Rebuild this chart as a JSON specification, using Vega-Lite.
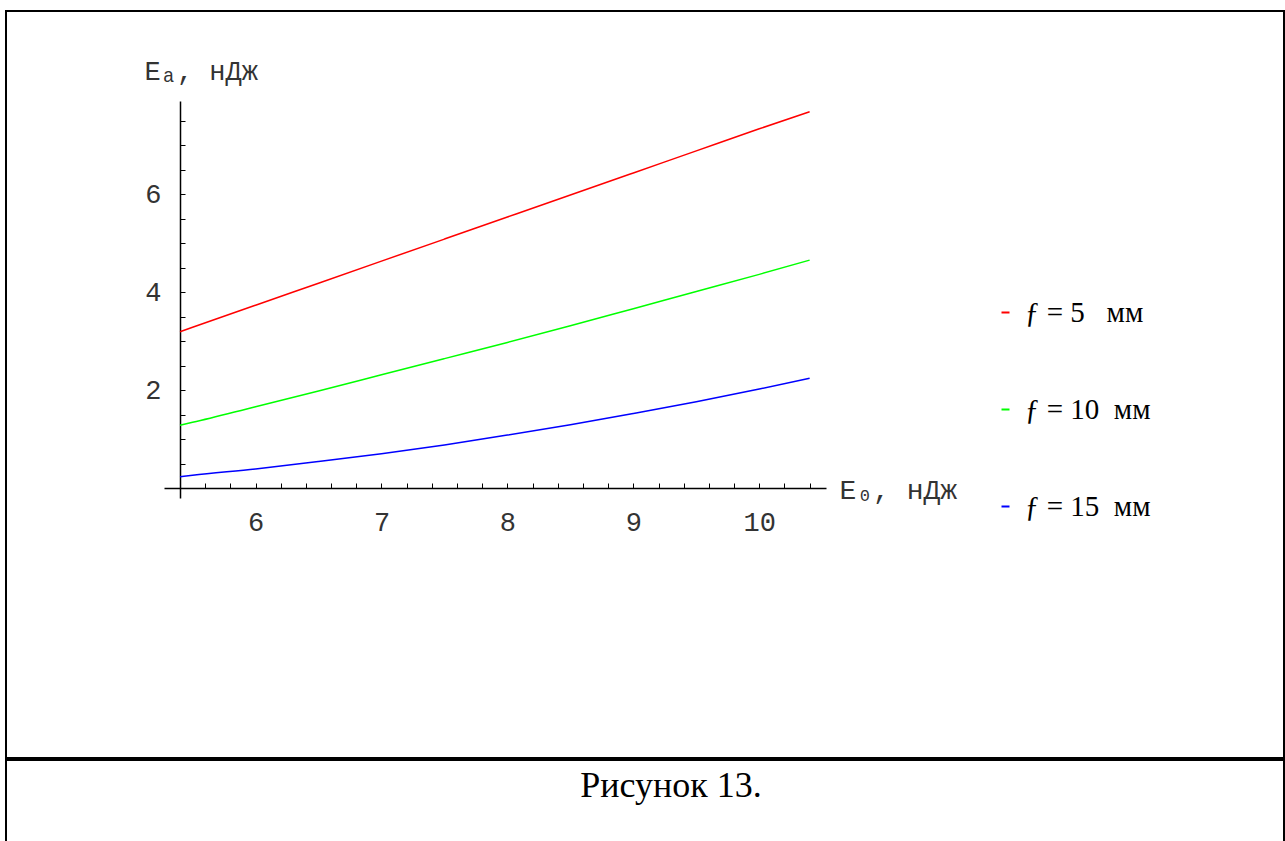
{
  "$schema": "https://vega.github.io/schema/vega-lite/v6.json",
  "padding": {"left": 5, "top": 10, "right": 0, "bottom": 0},
  "background": "white",
  "spacing": 0,
  "config": {"view": {"stroke": "black", "strokeWidth": 2}, "concat": {"spacing": 0}},
  "vconcat": [
    {
      "width": 1278,
      "height": 747,
      "data": {"values": [
        {"E0": 5.4, "Ea": 3.19, "f": 5}, {"E0": 5.5, "Ea": 3.28, "f": 5}, {"E0": 6.0, "Ea": 3.73, "f": 5}, {"E0": 6.5, "Ea": 4.18, "f": 5}, {"E0": 7.0, "Ea": 4.63, "f": 5}, {"E0": 7.5, "Ea": 5.08, "f": 5}, {"E0": 8.0, "Ea": 5.53, "f": 5}, {"E0": 8.5, "Ea": 5.98, "f": 5}, {"E0": 9.0, "Ea": 6.43, "f": 5}, {"E0": 9.5, "Ea": 6.88, "f": 5}, {"E0": 10.0, "Ea": 7.33, "f": 5}, {"E0": 10.4, "Ea": 7.68, "f": 5},
        {"E0": 5.4, "Ea": 1.28, "f": 10}, {"E0": 5.5, "Ea": 1.34, "f": 10}, {"E0": 6.0, "Ea": 1.66, "f": 10}, {"E0": 6.5, "Ea": 1.98, "f": 10}, {"E0": 7.0, "Ea": 2.31, "f": 10}, {"E0": 7.5, "Ea": 2.64, "f": 10}, {"E0": 8.0, "Ea": 2.97, "f": 10}, {"E0": 8.5, "Ea": 3.31, "f": 10}, {"E0": 9.0, "Ea": 3.66, "f": 10}, {"E0": 9.5, "Ea": 4.01, "f": 10}, {"E0": 10.0, "Ea": 4.36, "f": 10}, {"E0": 10.4, "Ea": 4.65, "f": 10},
        {"E0": 5.4, "Ea": 0.23, "f": 15}, {"E0": 5.5, "Ea": 0.26, "f": 15}, {"E0": 6.0, "Ea": 0.39, "f": 15}, {"E0": 6.5, "Ea": 0.54, "f": 15}, {"E0": 7.0, "Ea": 0.70, "f": 15}, {"E0": 7.5, "Ea": 0.88, "f": 15}, {"E0": 8.0, "Ea": 1.08, "f": 15}, {"E0": 8.5, "Ea": 1.29, "f": 15}, {"E0": 9.0, "Ea": 1.52, "f": 15}, {"E0": 9.5, "Ea": 1.76, "f": 15}, {"E0": 10.0, "Ea": 2.02, "f": 15}, {"E0": 10.4, "Ea": 2.24, "f": 15}
      ]},
      "mark": {"type": "line", "strokeWidth": 1.5, "interpolate": "monotone"},
      "encoding": {
        "x": {
          "field": "E0", "type": "quantitative",
          "scale": {"domain": [5.273, 10.53], "range": [158, 820], "zero": false, "nice": false},
          "axis": {
            "orient": "bottom", "offset": -270,
            "values": [5.6, 5.8, 6, 6.2, 6.4, 6.6, 6.8, 7, 7.2, 7.4, 7.6, 7.8, 8, 8.2, 8.4, 8.6, 8.8, 9, 9.2, 9.4, 9.6, 9.8, 10, 10.2, 10.4],
            "labelExpr": "abs(datum.value - round(datum.value)) < 0.001 ? format(datum.value, 'd') : ''",
            "tickSize": -5, "tickColor": "black", "tickWidth": 1,
            "labelPadding": 26, "labelFont": "Liberation Mono", "labelFontSize": 27, "labelColor": "#333",
            "labelOverlap": false, "labelFlush": false,
            "domainColor": "black", "domainWidth": 1.5, "grid": false,
            "title": "E₀, нДж", "titleFont": "Liberation Mono", "titleFontSize": 28, "titleFontWeight": "normal", "titleColor": "#333",
            "titleAngle": 0, "titleAlign": "left", "titleBaseline": "middle", "titleX": 833, "titleY": 2
          }
        },
        "y": {
          "field": "Ea", "type": "quantitative",
          "scale": {"domain": [-0.204, 7.898], "range": [487, 90], "zero": false, "nice": false},
          "axis": {
            "orient": "left", "offset": -174,
            "values": [0.5, 1, 1.5, 2, 2.5, 3, 3.5, 4, 4.5, 5, 5.5, 6, 6.5, 7, 7.5],
            "labelExpr": "abs(datum.value - round(datum.value)) < 0.001 && round(datum.value) % 2 == 0 ? format(datum.value, 'd') : ''",
            "tickSize": -5, "tickColor": "black", "tickWidth": 1,
            "labelPadding": 24, "labelFont": "Liberation Mono", "labelFontSize": 27, "labelColor": "#333",
            "labelOverlap": false, "labelFlush": false,
            "domainColor": "black", "domainWidth": 1.5, "grid": false,
            "title": "Eₐ, нДж", "titleFont": "Liberation Mono", "titleFontSize": 27, "titleFontWeight": "normal", "titleColor": "#333",
            "titleAngle": 0, "titleAlign": "left", "titleBaseline": "middle", "titleX": -36, "titleY": 60
          }
        },
        "color": {
          "field": "f", "type": "nominal",
          "scale": {"domain": [5, 10, 15], "range": ["#ff0000", "#00ff00", "#0000ff"]},
          "legend": {
            "orient": "none", "legendX": 985, "legendY": 287, "title": null, "padding": 0,
            "symbolType": "stroke", "symbolSize": 64, "symbolStrokeWidth": 2,
            "labelFont": "Liberation Serif", "labelFontSize": 29, "labelColor": "black",
            "labelExpr": "'ƒ\u00a0=\u00a0' + datum.label + (datum.label == '5' ? '\u00a0\u00a0\u00a0' : '\u00a0\u00a0') + 'мм'", "rowPadding": 67, "labelOffset": 5
          }
        }
      }
    },
    {
      "width": 1278,
      "height": 100,
      "data": {"values": [{"caption": "Рисунок 13."}]},
      "mark": {"type": "text", "font": "Liberation Serif", "fontSize": 36, "dx": 26, "dy": -24, "color": "black"},
      "encoding": {
        "x": {"datum": 0, "type": "quantitative", "scale": {"domain": [-1, 1]}, "axis": null},
        "y": {"datum": 0, "type": "quantitative", "scale": {"domain": [-1, 1]}, "axis": null},
        "text": {"field": "caption"}
      }
    }
  ]
}
